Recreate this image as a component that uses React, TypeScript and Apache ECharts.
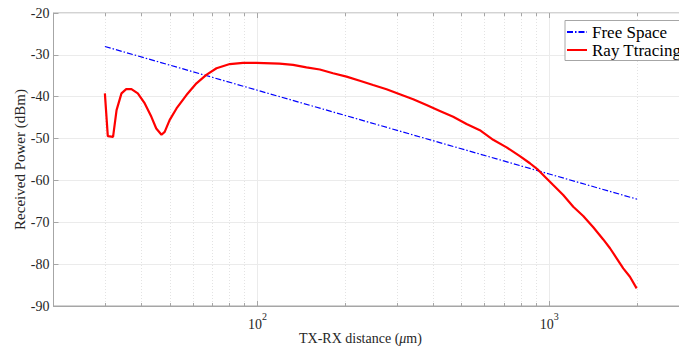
import React, { useEffect, useRef } from "react";
import * as echarts from "echarts";

// ---- data ----
const freeDist = [30, 100, 1000, 2000];
const freePower = [-28, -38.46, -58.46, -64.48];

const rayDist = [
  30, 30.7, 32.0, 32.9, 34.2, 35.5, 37.0, 38.9, 41.1, 43.3, 45.0, 46.9, 48.1, 50.0,
  52.8, 57.1, 61.8, 66.8, 72.4, 80.4, 89.3, 99.2, 119, 132.5, 147.2, 163.6, 181.6,
  202.0, 224.3, 249.1, 277.0, 307.6, 341.8, 379.8, 421.9, 468.7, 520.8, 578.5,
  642.7, 714.5, 793.4, 858.7, 917.1, 966.7, 1032, 1117, 1209, 1308, 1416, 1532,
  1616, 1703, 1794, 1891, 1994,
];
const rayPower = [
  -39.2, -49.4, -49.6, -43.2, -39.2, -38.2, -38.2, -39.2, -41.6, -44.8, -47.6, -49.1,
  -48.4, -45.6, -42.8, -39.6, -36.8, -34.8, -33.2, -32.2, -31.9, -31.9, -32.1, -32.4,
  -33.0, -33.5, -34.4, -35.2, -36.2, -37.2, -38.2, -39.4, -40.6, -42.0, -43.4, -44.8,
  -46.5, -48.0, -50.3, -52.1, -54.2, -55.9, -57.5, -59.1, -61.1, -63.5, -66.3, -68.5,
  -71.2, -74.1, -76.2, -78.6, -81.0, -83.0, -85.8,
];

const minorTicks = [30, 40, 50, 60, 70, 80, 90, 200, 300, 400, 500, 600, 700, 800, 900, 2000];
const majorTicks = [100, 1000];
const legendNames = ["Free Space", "Ray Ttracing"];

const FONT = "'Liberation Serif', 'Times New Roman', serif";
const AXIS_COLOR = "#a6a6a6";
const TEXT_COLOR = "#262626";

export default function App() {
  const ref = useRef<HTMLDivElement>(null);

  useEffect(() => {
    if (!ref.current) return;
    const W = 720;
    const H = 350;
    const chart = echarts.init(ref.current, undefined, { renderer: "svg", width: W, height: H });

    const tickRenderer = (isMajor: boolean) => (params: any, api: any) => {
      const cs = params.coordSys;
      const x = Math.round(api.coord([api.value(0), api.value(1)])[0]) + 0.5;
      const top = cs.y;
      const bottom = cs.y + cs.height;
      const children: any[] = [];
      if (!isMajor) {
        children.push({
          type: "line",
          shape: { x1: x, y1: top, x2: x, y2: bottom },
          style: { stroke: "#e3e3e3", lineWidth: 1, lineDash: [1, 2] },
        });
        children.push({
          type: "line",
          shape: { x1: x, y1: bottom, x2: x, y2: bottom - 3 },
          style: { stroke: AXIS_COLOR, lineWidth: 1 },
        });
        children.push({
          type: "line",
          shape: { x1: x, y1: top, x2: x, y2: top + 3 },
          style: { stroke: AXIS_COLOR, lineWidth: 1 },
        });
      } else {
        children.push({
          type: "line",
          shape: { x1: x, y1: top, x2: x, y2: top + 5 },
          style: { stroke: AXIS_COLOR, lineWidth: 1 },
        });
      }
      return { type: "group", children };
    };

    const option: any = {
      animation: false,
      backgroundColor: "#ffffff",
      grid: {
        left: 53.5,
        right: W - 688.4,
        top: 13,
        bottom: H - 306,
        outerBoundsMode: "none",
        containLabel: false,
        show: true,
        borderColor: AXIS_COLOR,
        borderWidth: 1,
        backgroundColor: "transparent",
      },
      legend: {
        data: legendNames,
        orient: "vertical",
        left: 565,
        top: 20.5,
        padding: [3, 6, 2, 1],
        itemWidth: 20,
        itemHeight: 12,
        itemGap: 1,
        backgroundColor: "#ffffff",
        borderColor: AXIS_COLOR,
        borderWidth: 1,
        itemStyle: { opacity: 0 },
        textStyle: { fontFamily: FONT, fontSize: 17, color: "#000", lineHeight: 17 },
      },
      xAxis: {
        type: "log",
        logBase: 10,
        min: 20,
        max: 3000,
        name: "TX-RX distance ({i|\u03bc}m)",
        nameLocation: "middle",
        nameGap: 25,
        nameMoveOverlap: false,
        nameTextStyle: {
          fontFamily: FONT,
          fontSize: 14,
          color: TEXT_COLOR,
          padding: [0, 21, 0, 0],
          rich: {
            i: { fontFamily: FONT, fontSize: 14, color: TEXT_COLOR, fontStyle: "italic" },
          },
        },
        axisLine: { show: true, onZero: false, lineStyle: { color: AXIS_COLOR } },
        axisTick: { show: true, inside: true, length: 5, lineStyle: { color: AXIS_COLOR } },
        splitLine: { show: true, lineStyle: { color: "#ebebeb" } },
        axisLabel: {
          margin: 5,
          showMinLabel: false,
          showMaxLabel: false,
          formatter: (v: number) => {
            const e = Math.round(Math.log10(v));
            if (Math.abs(Math.pow(10, e) - v) < 1e-6 && (v === 100 || v === 1000)) {
              return "{b|10}{s|" + e + "}";
            }
            return "";
          },
          rich: {
            b: { fontFamily: FONT, fontSize: 14, color: TEXT_COLOR, padding: [6, 0, 0, 0] },
            s: { fontFamily: FONT, fontSize: 10, color: TEXT_COLOR, verticalAlign: "top" },
          },
        },
      },
      yAxis: {
        type: "value",
        min: -90,
        max: -20,
        interval: 10,
        name: "Received Power (dBm)",
        nameLocation: "middle",
        nameGap: 26,
        nameMoveOverlap: false,
        nameTextStyle: { fontFamily: FONT, fontSize: 15, color: TEXT_COLOR },
        axisLine: { show: true, lineStyle: { color: AXIS_COLOR } },
        axisTick: { show: true, inside: true, length: 5, lineStyle: { color: AXIS_COLOR } },
        splitLine: { show: true, lineStyle: { color: "#ebebeb" } },
        axisLabel: { margin: 4, fontFamily: FONT, fontSize: 14, color: TEXT_COLOR },
      },
      series: [
        {
          type: "custom",
          silent: true,
          z: 1,
          data: minorTicks.map((v) => [v, -90]),
          encode: { x: 0, y: 1 },
          renderItem: tickRenderer(false),
        },
        {
          type: "custom",
          silent: true,
          z: 1,
          data: majorTicks.map((v) => [v, -90]),
          encode: { x: 0, y: 1 },
          renderItem: tickRenderer(true),
        },
        {
          name: legendNames[0],
          type: "line",
          symbol: "none",
          z: 3,
          data: freeDist.map((d, i) => [d, freePower[i]]),
          lineStyle: { color: "#0000ff", width: 1.2, type: [6, 2, 1.5, 2] },
          itemStyle: { color: "#0000ff" },
        },
        {
          name: legendNames[1],
          type: "line",
          symbol: "none",
          z: 4,
          data: rayDist.map((d, i) => [d, rayPower[i]]),
          lineStyle: { color: "#ff0000", width: 2.2 },
          itemStyle: { color: "#ff0000" },
        },
      ],
    };

    chart.setOption(option);
    return () => chart.dispose();
  }, []);

  return (
    <div
      style={{
        position: "absolute",
        left: 0,
        top: 0,
        width: 679,
        height: 350,
        overflow: "hidden",
        background: "#fff",
      }}
    >
      <div ref={ref} style={{ width: 720, height: 350 }} />
    </div>
  );
}
